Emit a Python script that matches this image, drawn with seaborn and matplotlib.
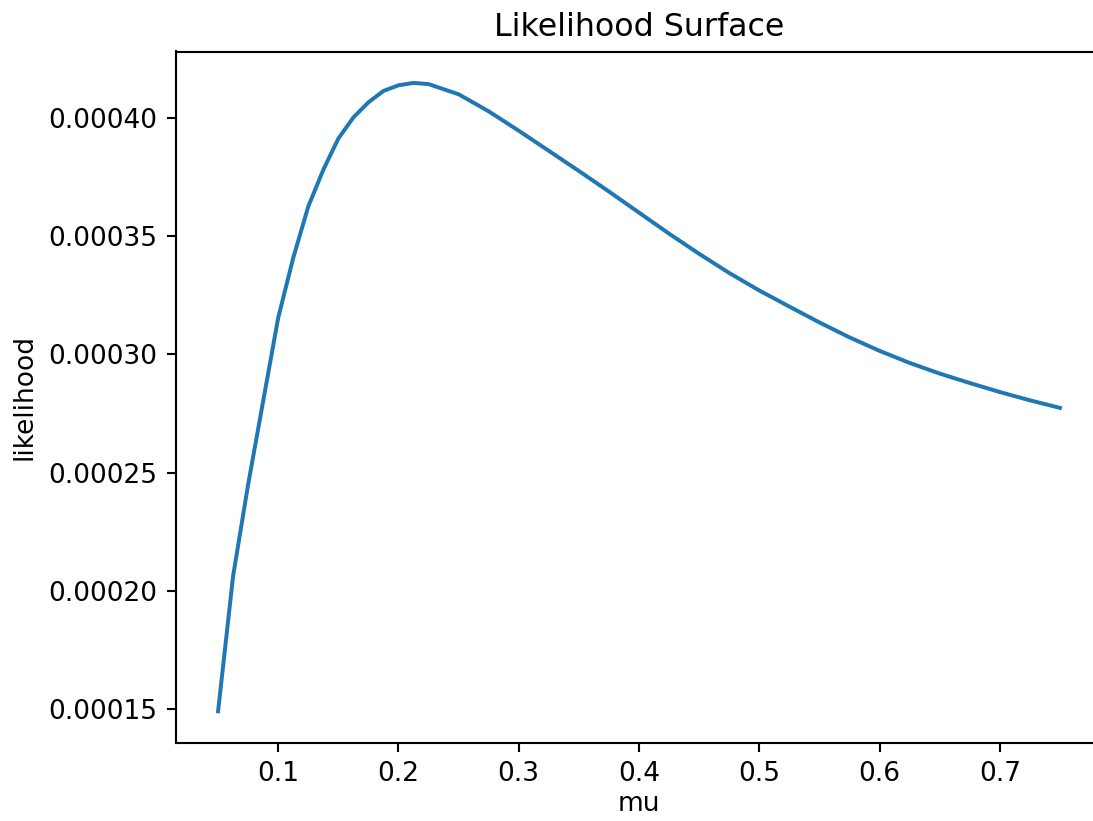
import matplotlib
matplotlib.use("Agg")
import matplotlib.pyplot as plt
import seaborn as sns
import pandas as pd

mu = [0.05, 0.0625, 0.075, 0.0875, 0.1, 0.1125, 0.125, 0.1375, 0.15, 0.1625,
      0.175, 0.1875, 0.2, 0.2125, 0.225, 0.25, 0.275, 0.3, 0.325, 0.35,
      0.375, 0.4, 0.425, 0.45, 0.475, 0.5, 0.525, 0.55, 0.575, 0.6,
      0.625, 0.65, 0.675, 0.7, 0.725, 0.75]
likelihood = [0.0001492, 0.0002064, 0.0002451, 0.0002803, 0.0003155, 0.0003408,
              0.0003625, 0.0003780, 0.0003912, 0.0004001, 0.0004065, 0.0004113,
              0.0004137, 0.0004147, 0.0004142, 0.0004099, 0.0004027, 0.0003945,
              0.0003860, 0.0003775, 0.0003688, 0.0003599, 0.0003510, 0.0003425,
              0.0003344, 0.0003270, 0.0003202, 0.0003135, 0.0003072, 0.0003015,
              0.0002964, 0.0002919, 0.0002879, 0.0002841, 0.0002806, 0.0002774]

df = pd.DataFrame({"mu": mu, "likelihood": likelihood})

DPI = 190
W, H = 1093, 821
fig = plt.figure(figsize=(W / DPI, H / DPI), dpi=DPI)
ax = fig.add_axes([176 / W, 1 - 742.7 / H, (1102 - 176) / W, (742.7 - 51.5) / H])

sns.lineplot(data=df, x="mu", y="likelihood", ax=ax, color="#1f77b4", linewidth=1.5)
ax.set_title("Likelihood Surface", fontsize=12)
ax.set_xlabel("mu", fontsize=10, labelpad=1.3)
ax.set_ylabel("likelihood", fontsize=10)
ax.tick_params(labelsize=10)

fig.savefig("out.png", dpi=DPI)
